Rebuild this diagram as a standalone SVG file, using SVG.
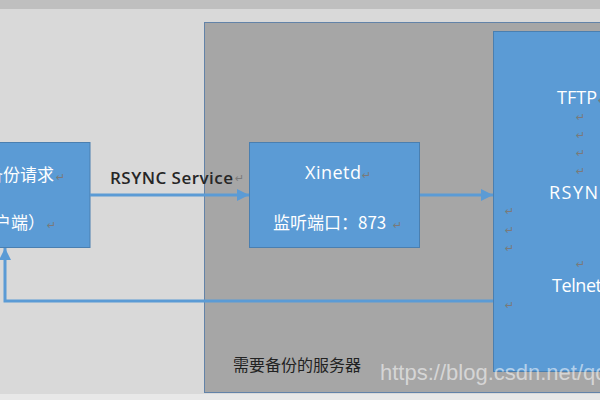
<svg xmlns="http://www.w3.org/2000/svg" width="600" height="400" viewBox="0 0 600 400">
<defs>
<style>
.node{fill:#5b9bd5;stroke:#4a7fb0;stroke-width:1}
.t{font-family:"Noto Sans CJK SC","Noto Sans",sans-serif;font-size:17px;fill:#ffffff}
.lat{font-family:"Open Sans","Noto Sans",sans-serif;font-size:18px;fill:#ffffff}
.pm{font-family:"DejaVu Sans",sans-serif;font-size:11px;fill:#7a7a7a}
.conn{fill:none;stroke:#5b9bd5;stroke-width:3}
.dark{font-family:"Noto Sans CJK SC","Noto Sans",sans-serif;font-size:16px;fill:#222222}
</style>
<marker id="ah" viewBox="0 0 12 12" refX="12" refY="6" markerWidth="12" markerHeight="12" markerUnits="userSpaceOnUse" orient="auto">
<path d="M0,0 L12,6 L0,12 Z" fill="#5b9bd5"/>
</marker>
</defs>
<rect x="0" y="0" width="600" height="400" fill="#d9d9d9"/>
<rect x="0" y="0" width="600" height="9" fill="#bfbfbf"/>
<rect x="0" y="394" width="600" height="6" fill="#e8e8e8"/>

<g id="server">
<rect x="204.5" y="22.5" width="420" height="370" fill="#a6a6a6" stroke="#6383a8" stroke-width="1"/>
<text class="dark" x="233" y="371">需要备份的服务器</text>
</g>

<g id="client">
<rect class="node" x="-20" y="142.5" width="110" height="105"/>
<text class="t" x="54" y="181" text-anchor="end">备份请求</text>
<text class="pm" x="56" y="181">↵</text>
<text class="t" x="45" y="229" text-anchor="end">（客户端）</text>
<text class="pm" x="47" y="229">↵</text>
</g>

<g id="xinetd">
<rect class="node" x="249.5" y="142.5" width="170" height="105"/>
<text class="lat" x="305" y="179" textLength="56">Xinetd</text>
<text class="pm" x="362" y="179">↵</text>
<text class="t" x="273" y="229">监听端口：873</text>
<text class="pm" x="393" y="229">↵</text>
</g>

<g id="services">
<rect class="node" x="493.5" y="31.5" width="180" height="340"/>
<text class="lat" x="557" y="104" textLength="40">TFTP</text>
<text class="pm" x="598" y="104">↵</text>
<text class="pm" x="576" y="121">↵</text>
<text class="pm" x="576" y="139">↵</text>
<text class="pm" x="576" y="157">↵</text>
<text class="pm" x="576" y="175">↵</text>
<text class="lat" x="549" y="199" textLength="62">RSYNC</text>
<text class="pm" x="505" y="215">↵</text>
<text class="pm" x="505" y="234">↵</text>
<text class="pm" x="505" y="252">↵</text>
<text class="pm" x="576" y="268">↵</text>
<text class="lat" x="552" y="292" textLength="50">Telnet</text>
<text class="pm" x="505" y="309">↵</text>
</g>

<g id="connectors">
<line class="conn" x1="90" y1="195" x2="249" y2="195" marker-end="url(#ah)"/>
<line class="conn" x1="420" y1="195" x2="493" y2="195" marker-end="url(#ah)"/>
<polyline class="conn" points="493,301 5,301 5,248" marker-end="url(#ah)"/>
<text class="lat" x="110" y="184" textLength="123" style="fill:#262626;font-weight:600;font-size:17px">RSYNC Service</text>
<text class="pm" x="235" y="182">↵</text>
</g>

<text x="380" y="380" font-family="Liberation Sans, Arial, sans-serif" font-size="22" fill="#ffffff" fill-opacity="0.55">https://blog.csdn.net/qq</text>
</svg>
